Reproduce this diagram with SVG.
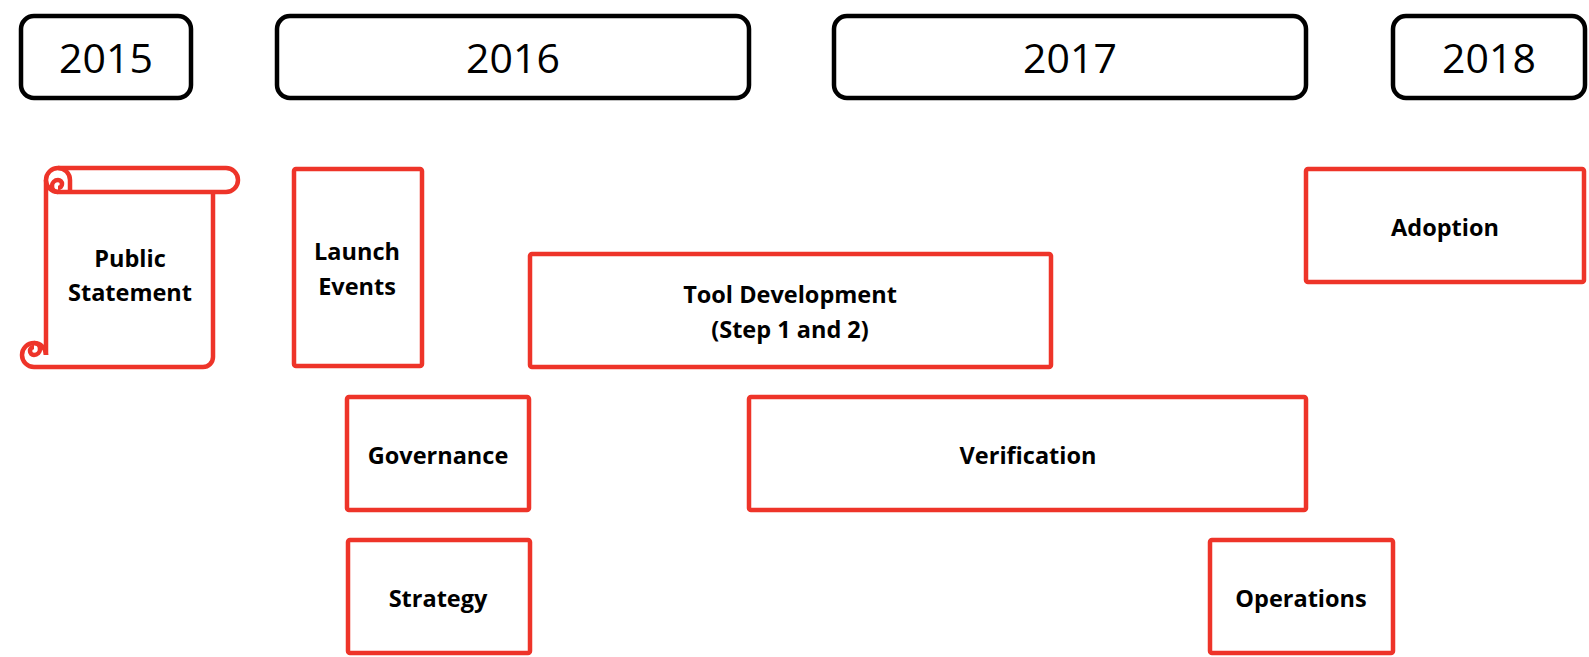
<svg xmlns="http://www.w3.org/2000/svg" width="1589" height="657" viewBox="0 0 1589 657">
  <style>
    .year rect { fill: #ffffff; stroke: #000000; stroke-width: 4.5; }
    .year text { font-family: "Open Sans", "Liberation Sans", sans-serif; font-size: 41px; fill: #000000; text-anchor: middle; }
    .task rect, .task path { fill: #ffffff; stroke: #ee3429; stroke-width: 4.5; stroke-linejoin: round; }
    .task path.line { fill: none; }
    .task text { font-family: "Open Sans", "Liberation Sans", sans-serif; font-size: 23.5px; font-weight: bold; fill: #000000; text-anchor: middle; }
  </style>
  <rect width="1589" height="657" fill="#ffffff"/>

  <!-- Year headers -->
  <g id="y2015" class="year">
    <rect x="21" y="16" width="170" height="82" rx="13"/>
    <text x="106" y="73">2015</text>
  </g>
  <g id="y2016" class="year">
    <rect x="277" y="16" width="472" height="82" rx="13"/>
    <text x="513" y="73">2016</text>
  </g>
  <g id="y2017" class="year">
    <rect x="834" y="16" width="472" height="82" rx="13"/>
    <text x="1070" y="73">2017</text>
  </g>
  <g id="y2018" class="year">
    <rect x="1393" y="16" width="192" height="82" rx="13"/>
    <text x="1489" y="73">2018</text>
  </g>

  <!-- Public Statement scroll -->
  <g id="public-statement" class="task">
    <!-- sheet body -->
    <path class="line" d="M46,180 V355 M34,367 H203 A10,10 0 0 0 213,357 V192"/>
    <!-- bottom roll -->
    <path class="line" d="M34,367 A12,12 0 0 1 22,355 A12,12 0 0 1 34,343 A12,12 0 0 1 46,355"/>
    <path class="line" d="M34,343 A6,6 0 0 1 34,355 A4,4 0 0 1 30,351 A4,4 0 0 1 34,347"/>
    <!-- top roll -->
    <path d="M58,168 H226 A12,12 0 0 1 226,192 H58 A12,12 0 0 1 58,168 Z"/>
    <path class="line" d="M58,192 A6,6 0 0 1 58,180 A4,4 0 0 1 62,184 A4,4 0 0 1 58,188"/>
    <path class="line" d="M58,168 A12,12 0 0 1 70,180 V192"/>
    <text x="130" y="267">Public</text>
    <text x="130" y="301">Statement</text>
  </g>

  <g id="launch-events" class="task">
    <rect x="294" y="169" width="128" height="197" rx="2"/>
    <text x="357" y="260">Launch</text>
    <text x="357" y="295">Events</text>
  </g>

  <g id="tool-development" class="task">
    <rect x="530" y="254" width="521" height="113" rx="2"/>
    <text x="790" y="303">Tool Development</text>
    <text x="790" y="338">(Step 1 and 2)</text>
  </g>

  <g id="governance" class="task">
    <rect x="347" y="397" width="182" height="113" rx="2"/>
    <text x="438" y="464">Governance</text>
  </g>

  <g id="verification" class="task">
    <rect x="749" y="397" width="557" height="113" rx="2"/>
    <text x="1028" y="464">Verification</text>
  </g>

  <g id="strategy" class="task">
    <rect x="348" y="540" width="182" height="113" rx="2"/>
    <text x="438" y="607">Strategy</text>
  </g>

  <g id="operations" class="task">
    <rect x="1210" y="540" width="183" height="113" rx="2"/>
    <text x="1301" y="607">Operations</text>
  </g>

  <g id="adoption" class="task">
    <rect x="1306" y="169" width="278" height="113" rx="2"/>
    <text x="1445" y="236">Adoption</text>
  </g>

  <g id="connectors"/>
</svg>
